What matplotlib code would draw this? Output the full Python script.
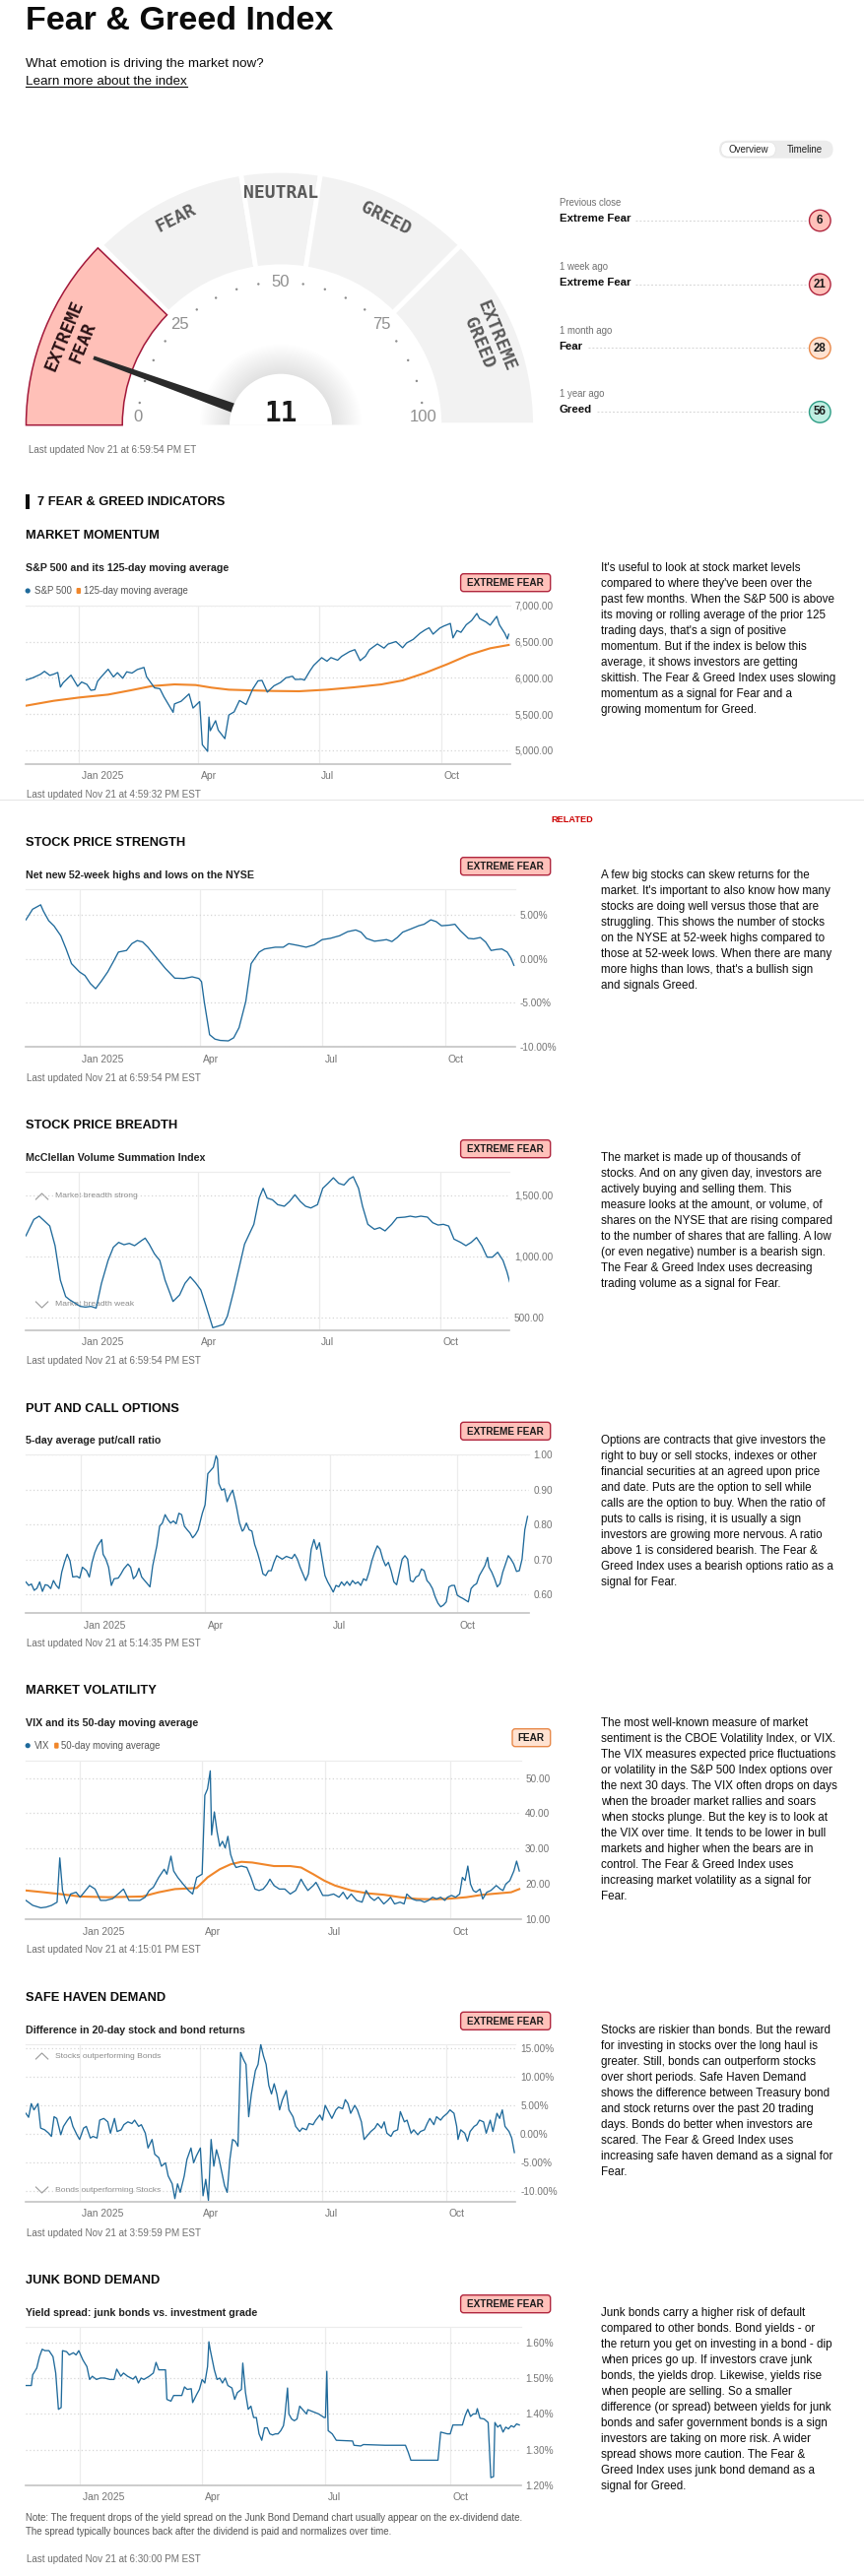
import numpy as np
import matplotlib
matplotlib.use("Agg")
import matplotlib.pyplot as plt
import matplotlib.transforms as mtransforms
from matplotlib.patches import Wedge, Circle, Polygon, FancyBboxPatch, Rectangle

plt.rcParams['font.family'] = ['Liberation Sans', 'DejaVu Sans']

# ---------------- data ----------------
fg_value = 11
zone_names = ['EXTREME\nFEAR', 'FEAR', 'NEUTRAL', 'GREED', 'EXTREME\nGREED']
zone_bounds = [0, 25, 45, 55, 75, 100]
gauge_labels = [0, 25, 50, 75, 100]

hist_when = ['Previous close', '1 week ago', '1 month ago', '1 year ago']
hist_rating = ['Extreme Fear', 'Extreme Fear', 'Fear', 'Greed']
hist_value = [6, 21, 28, 56]

badges = ['EXTREME FEAR', 'EXTREME FEAR', 'EXTREME FEAR', 'EXTREME FEAR',
          'FEAR', 'EXTREME FEAR', 'EXTREME FEAR']

month_ticks = ['2025-01-01', '2025-04-01', '2025-07-01', '2025-10-01']
month_labels = ['Jan 2025', 'Apr', 'Jul', 'Oct']

sp500 = [('2024-11-22', 5969), ('2024-11-27', 5999), ('2024-12-03', 6049), ('2024-12-06', 6090),
         ('2024-12-10', 6034), ('2024-12-13', 6051), ('2024-12-16', 6074), ('2024-12-18', 5872),
         ('2024-12-20', 5930), ('2024-12-26', 6037), ('2024-12-31', 5882), ('2025-01-03', 5942),
         ('2025-01-07', 5909), ('2025-01-10', 5827), ('2025-01-13', 5836), ('2025-01-15', 5950),
         ('2025-01-17', 5997), ('2025-01-23', 6119), ('2025-01-27', 6012), ('2025-01-30', 6071),
         ('2025-02-03', 5994), ('2025-02-06', 6083), ('2025-02-10', 6066), ('2025-02-14', 6115),
         ('2025-02-19', 6144), ('2025-02-21', 6013), ('2025-02-27', 5861), ('2025-03-03', 5849),
         ('2025-03-06', 5739), ('2025-03-10', 5615), ('2025-03-13', 5522), ('2025-03-14', 5639),
         ('2025-03-19', 5675), ('2025-03-25', 5777), ('2025-03-28', 5581), ('2025-04-02', 5671),
         ('2025-04-04', 5074), ('2025-04-08', 4982), ('2025-04-09', 5457), ('2025-04-10', 5268),
         ('2025-04-14', 5406), ('2025-04-16', 5276), ('2025-04-21', 5158), ('2025-04-24', 5485),
         ('2025-04-28', 5529), ('2025-05-02', 5686), ('2025-05-07', 5631), ('2025-05-12', 5844),
         ('2025-05-16', 5958), ('2025-05-19', 5964), ('2025-05-23', 5802), ('2025-05-28', 5889),
         ('2025-06-02', 5936), ('2025-06-06', 6000), ('2025-06-11', 6022), ('2025-06-13', 5977),
         ('2025-06-18', 5981), ('2025-06-20', 5968), ('2025-06-24', 6092), ('2025-06-27', 6173),
         ('2025-07-03', 6279), ('2025-07-07', 6230), ('2025-07-10', 6280), ('2025-07-15', 6244),
         ('2025-07-18', 6297), ('2025-07-24', 6363), ('2025-07-28', 6390), ('2025-08-01', 6238),
         ('2025-08-05', 6299), ('2025-08-08', 6389), ('2025-08-14', 6469), ('2025-08-19', 6411),
         ('2025-08-22', 6467), ('2025-08-28', 6502), ('2025-09-02', 6416), ('2025-09-05', 6482),
         ('2025-09-10', 6532), ('2025-09-15', 6615), ('2025-09-19', 6664), ('2025-09-22', 6693),
         ('2025-09-25', 6605), ('2025-09-30', 6688), ('2025-10-03', 6716), ('2025-10-08', 6753),
         ('2025-10-10', 6553), ('2025-10-13', 6655), ('2025-10-16', 6630), ('2025-10-20', 6735),
         ('2025-10-24', 6792), ('2025-10-28', 6891), ('2025-10-30', 6822), ('2025-11-04', 6772),
         ('2025-11-07', 6729), ('2025-11-12', 6851), ('2025-11-14', 6734), ('2025-11-18', 6617),
         ('2025-11-20', 6538), ('2025-11-21', 6603)]
sp500_ma125 = [('2024-11-22', 5614), ('2024-12-13', 5682), ('2025-01-01', 5727), ('2025-01-23', 5768),
               ('2025-02-09', 5827), ('2025-02-25', 5886), ('2025-03-14', 5909), ('2025-03-30', 5900),
               ('2025-04-11', 5864), ('2025-04-24', 5836), ('2025-05-10', 5827), ('2025-05-27', 5818),
               ('2025-06-16', 5814), ('2025-07-07', 5836), ('2025-07-27', 5868), ('2025-08-17', 5909),
               ('2025-09-02', 5964), ('2025-09-19', 6068), ('2025-10-06', 6191), ('2025-10-22', 6318),
               ('2025-11-07', 6409), ('2025-11-21', 6455)]

# (days after 2025-01-01, value)
strength = [(-40, 4.4), (-35, 5.6), (-29, 6.1), (-27, 5.4), (-23, 4.3), (-19, 3.7), (-14, 2.6), (-10, 1.1),
            (-6, -0.56), (0, -1.5), (4, -1.9), (8, -2.8), (12, -3.4), (16, -2.6), (21, -1.5), (25, -0.4),
            (29, 0.75), (35, 0.93), (39, 1.7), (43, 2.05), (47, 1.9), (51, 1.3), (58, 0), (64, -1.1),
            (71, -2.2), (78, -2.24), (84, -2.05), (89, -2.24), (91, -2.6), (93, -4.85), (97, -8.6),
            (101, -9.1), (105, -9.25), (111, -9.3), (115, -8.95), (119, -7.8), (124, -4.85), (128, -0.56),
            (134, 0.75), (138, 1.1), (146, 1.3), (152, 1.3), (156, 1.7), (163, 1.5), (169, 1.3), (175, 1.57),
            (181, 2.16), (187, 2.3), (194, 2.6), (200, 3.06), (206, 3.25), (210, 3.0), (214, 2.3), (220, 1.98),
            (224, 2.05), (229, 2.16), (233, 1.94), (237, 2.4), (241, 3.0), (247, 3.36), (253, 3.73), (257, 3.9),
            (262, 4.4), (266, 4.2), (270, 3.73), (276, 3.8), (280, 3.9), (284, 3.17), (290, 2.3), (294, 2.24),
            (299, 2.4), (303, 1.87), (307, 0.93), (311, 1.04), (315, 1.1), (319, 0.75), (322, 0), (324, -0.75)]

breadth = [(-40, 1167), (-37, 1234), (-34, 1301), (-30, 1328), (-26, 1288), (-22, 1247), (-18, 1086),
           (-14, 804), (-10, 669), (-7, 643), (-3, 616), (1, 589), (5, 583), (9, 589), (13, 575), (17, 777),
           (22, 965), (26, 1073), (30, 1113), (34, 1094), (38, 1105), (42, 1086), (47, 1126), (50, 1148),
           (53, 1099), (57, 1019), (61, 965), (65, 804), (71, 629), (76, 683), (80, 777), (84, 831), (88, 782),
           (92, 723), (96, 589), (101, 414), (105, 427), (109, 441), (112, 508), (117, 723), (121, 911),
           (125, 1099), (132, 1261), (136, 1476), (139, 1556), (142, 1476), (146, 1462), (150, 1422),
           (155, 1409), (159, 1449), (163, 1503), (167, 1449), (171, 1409), (175, 1395), (180, 1422),
           (184, 1556), (188, 1597), (192, 1642), (196, 1597), (200, 1583), (204, 1632), (207, 1651),
           (211, 1556), (214, 1409), (218, 1261), (223, 1220), (227, 1234), (231, 1207), (236, 1261),
           (240, 1315), (246, 1320), (250, 1328), (254, 1320), (258, 1328), (263, 1320), (267, 1274),
           (271, 1255), (275, 1261), (279, 1247), (283, 1140), (288, 1113), (292, 1086), (296, 1113),
           (300, 1153), (304, 1086), (308, 992), (312, 992), (316, 1032), (320, 965), (323, 871), (325, 790)]

put_call = [(-40, .636), (-38, .626), (-36, .630), (-34, .612), (-32, .618), (-30, .636), (-28, .609),
            (-26, .628), (-24, .626), (-22, .617), (-20, .640), (-18, .626), (-16, .617), (-14, .664),
            (-12, .692), (-10, .715), (-8, .696), (-6, .650), (-3, .652), (-1, .647), (1, .678), (4, .668),
            (6, .650), (8, .692), (10, .720), (12, .739), (15, .757), (16, .715), (18, .701), (20, .678),
            (22, .626), (24, .645), (27, .647), (29, .659), (31, .673), (34, .687), (36, .678), (38, .645),
            (40, .654), (42, .675), (44, .650), (47, .636), (50, .622), (52, .682), (55, .739), (57, .795),
            (59, .804), (61, .828), (63, .814), (65, .804), (67, .810), (69, .802), (71, .832), (73, .828),
            (75, .795), (77, .785), (79, .776), (81, .762), (83, .771), (85, .785), (88, .832), (90, .856),
            (92, .945), (94, .954), (96, .963), (98, .996), (99, .987), (100, .917), (102, .898), (104, .902),
            (106, .865), (108, .884), (110, .898), (112, .865), (113, .846), (115, .804), (117, .781),
            (118, .785), (120, .804), (122, .785), (124, .781), (126, .743), (128, .720), (130, .692),
            (132, .659), (134, .654), (136, .668), (138, .668), (140, .692), (142, .711), (144, .706),
            (146, .701), (149, .709), (151, .706), (153, .703), (155, .715), (157, .701), (159, .678),
            (161, .659), (163, .640), (165, .659), (167, .729), (169, .757), (171, .729), (173, .748),
            (175, .701), (177, .654), (179, .636), (181, .622), (183, .607), (185, .626), (187, .622),
            (189, .636), (191, .626), (193, .637), (195, .626), (197, .640), (199, .631), (201, .636),
            (203, .626), (205, .645), (207, .640), (209, .664), (211, .696), (213, .720), (215, .739),
            (217, .729), (219, .701), (221, .682), (223, .692), (225, .668), (227, .636), (229, .628),
            (231, .664), (233, .701), (235, .711), (237, .701), (239, .640), (241, .636), (243, .650),
            (245, .654), (247, .673), (249, .668), (251, .640), (253, .631), (255, .617), (257, .593),
            (259, .575), (261, .565), (263, .570), (265, .579), (267, .622), (269, .626), (271, .626),
            (273, .598), (275, .593), (277, .589), (279, .584), (281, .579), (283, .617), (285, .626),
            (287, .631), (289, .654), (291, .668), (293, .682), (295, .706), (296, .678), (298, .664),
            (300, .645), (302, .622), (304, .631), (306, .664), (308, .687), (310, .711), (312, .701),
            (314, .687), (316, .666), (318, .668), (320, .701), (322, .785), (324, .823)]

vix = [(-40, 15.4), (-35, 14.0), (-29, 13.3), (-25, 13.5), (-21, 14.0), (-17, 14.9), (-15, 27.4), (-13, 18.2),
       (-10, 14.5), (-7, 17.2), (-3, 17.7), (0, 16.3), (3, 17.7), (7, 19.6), (11, 18.6), (15, 15.4), (19, 15.4),
       (24, 15.9), (28, 17.2), (32, 18.6), (36, 15.4), (40, 15.4), (44, 15.4), (48, 16.3), (51, 18.2),
       (54, 19.1), (58, 21.9), (62, 24.2), (64, 22.8), (67, 27.9), (69, 23.7), (72, 21.9), (76, 20.0),
       (80, 18.2), (83, 17.2), (86, 21.9), (90, 22.8), (92, 45.1), (94, 46.9), (96, 52.0), (97, 33.9),
       (99, 40.4), (101, 34.9), (103, 30.7), (105, 32.1), (107, 30.2), (109, 33.5), (111, 28.4), (113, 26.1),
       (115, 24.7), (119, 25.1), (123, 24.7), (126, 21.9), (129, 18.6), (132, 18.2), (135, 18.6), (138, 20.0),
       (140, 21.4), (143, 19.6), (147, 18.6), (151, 18.6), (155, 17.2), (159, 18.2), (163, 21.4), (165, 20.0),
       (168, 18.2), (172, 19.6), (174, 20.5), (176, 19.1), (179, 16.8), (183, 16.8), (187, 17.2), (191, 16.3),
       (194, 17.7), (197, 15.8), (200, 17.2), (204, 15.4), (208, 14.9), (211, 18.2), (214, 16.3), (217, 15.4),
       (220, 16.3), (224, 14.4), (227, 15.4), (229, 16.3), (232, 14.4), (236, 14.9), (239, 14.4), (241, 17.2),
       (245, 15.8), (248, 15.4), (251, 15.4), (254, 14.9), (257, 15.4), (260, 16.3), (263, 15.8), (266, 16.3),
       (269, 15.4), (271, 16.3), (274, 16.8), (277, 16.3), (280, 17.2), (282, 21.9), (284, 21.0), (286, 25.1),
       (288, 20.0), (290, 18.2), (292, 17.7), (295, 18.6), (297, 15.8), (300, 17.7), (303, 18.2), (307, 19.6),
       (310, 18.6), (312, 18.2), (314, 20.0), (317, 21.0), (320, 23.7), (322, 26.5), (324, 23.7)]
vix_ma50 = [(-40, 18.2), (-27, 17.7), (-15, 17.2), (0, 16.5), (21, 16.3), (46, 16.5), (58, 17.7), (70, 18.6),
            (86, 18.9), (94, 21.9), (103, 24.2), (111, 25.6), (119, 26.3), (127, 26.1), (135, 25.6),
            (143, 25.1), (155, 25.1), (163, 24.7), (172, 22.8), (180, 21.0), (188, 19.6), (200, 18.2),
            (212, 17.4), (224, 17.0), (236, 16.3), (249, 15.8), (261, 15.7), (273, 15.9), (285, 16.3),
            (297, 17.0), (309, 17.4), (318, 17.7), (324, 18.6)]

safe_haven = [(-40, 3.6), (-38, 2.9), (-36, 5.3), (-34, 4.2), (-31, 5.3), (-29, 1.0), (-26, 0.7), (-23, 0.1),
              (-21, -0.46), (-19, 3.0), (-17, 2.7), (-14, -0.17), (-12, 1.3), (-9, 2.4), (-7, 3.0), (-5, 1.3),
              (-2, -0.17), (0, -1.0), (3, 1.0), (5, 1.3), (8, -0.75), (10, -0.46), (13, -0.75), (15, 2.4),
              (18, 2.7), (21, 2.1), (23, 0.1), (26, 2.7), (28, 0.4), (31, 0.7), (33, 1.6), (36, 2.1), (39, 1.8),
              (41, 2.4), (44, 1.3), (46, 1.6), (49, 0.1), (51, -2.5), (54, -1.0), (56, -3.6), (59, -4.2),
              (61, -5.7), (64, -5.1), (66, -7.4), (69, -8.8), (71, -11.4), (73, -8.8), (75, -10.3), (78, -7.4),
              (80, -4.5), (83, -2.5), (85, -5.1), (87, -3.9), (90, -2.5), (92, -10.9), (94, -8.0), (96, -11.7),
              (98, -1.0), (100, -5.7), (102, -2.8), (104, -4.5), (106, -6.8), (108, -9.1), (110, -10.3),
              (112, -4.5), (114, -1.0), (116, -1.3), (118, -2.2), (120, 14.3), (122, 13.1), (124, 12.2),
              (126, 3.0), (128, 7.0), (131, 11.1), (133, 12.2), (135, 15.7), (137, 13.7), (139, 12.2), (141, 8.5),
              (143, 7.0), (145, 8.8), (147, 7.0), (149, 4.2), (151, 5.9), (154, 7.6), (156, 4.2), (159, 3.0),
              (161, 1.3), (164, 0.4), (166, 1.0), (169, 0.7), (171, 1.8), (174, 1.6), (176, 2.4), (179, 3.3),
              (181, 2.4), (183, 5.0), (186, 3.6), (188, 2.7), (191, 4.2), (193, 4.7), (196, 4.4), (198, 6.0),
              (200, 5.3), (202, 3.6), (205, 5.0), (207, 4.2), (210, 2.1), (212, -1.0), (215, -0.17), (217, 0.4),
              (220, 1.0), (222, 1.8), (225, 1.0), (227, 2.1), (229, 0.1), (232, -0.46), (234, 0.4), (237, 0.7),
              (239, 3.9), (242, 2.1), (244, 2.4), (247, 0.1), (249, 0.7), (252, -0.17), (254, 0.4), (257, 0.7),
              (259, 1.8), (261, 2.7), (264, 1.6), (266, 3.0), (269, 2.4), (271, 3.0), (274, 3.6), (276, 4.2),
              (279, 3.6), (281, 1.3), (282, -1.0), (284, 0.7), (287, 0.1), (289, -1.3), (291, 0.4), (294, 1.3),
              (296, 1.6), (298, 2.4), (301, 2.1), (303, 0.1), (306, 2.4), (308, 0.4), (311, 3.6), (313, 2.7),
              (315, 4.2), (317, 1.3), (320, 0.4), (322, -0.75), (324, -3.3)]

junk_spread = [(-40, 1.480), (-36, 1.480), (-35, 1.510), (-32, 1.529), (-30, 1.561), (-28, 1.582), (-26, 1.578),
               (-23, 1.578), (-20, 1.561), (-18, 1.515), (-16, 1.413), (-14, 1.418), (-13, 1.578), (-10, 1.575),
               (-8, 1.566), (-5, 1.572), (-3, 1.566), (-1, 1.578), (2, 1.552), (5, 1.533), (7, 1.497), (9, 1.506),
               (12, 1.497), (15, 1.501), (18, 1.501), (22, 1.497), (25, 1.497), (27, 1.526), (30, 1.506),
               (32, 1.515), (35, 1.506), (39, 1.498), (41, 1.506), (43, 1.487), (45, 1.501), (47, 1.497),
               (51, 1.506), (54, 1.515), (56, 1.545), (58, 1.524), (61, 1.524), (63, 1.524), (64, 1.441),
               (67, 1.436), (69, 1.452), (73, 1.452), (75, 1.452), (77, 1.476), (79, 1.469), (82, 1.471),
               (83, 1.432), (86, 1.455), (88, 1.469), (90, 1.497), (92, 1.487), (94, 1.533), (95, 1.603),
               (96, 1.580), (99, 1.524), (101, 1.497), (103, 1.501), (105, 1.487), (107, 1.501), (109, 1.480),
               (112, 1.473), (114, 1.441), (116, 1.460), (119, 1.469), (120, 1.543), (122, 1.460), (124, 1.413),
               (126, 1.422), (128, 1.390), (130, 1.390), (132, 1.344), (134, 1.326), (136, 1.361), (138, 1.361),
               (140, 1.344), (142, 1.341), (144, 1.344), (146, 1.344), (148, 1.353), (150, 1.367), (151, 1.393),
               (153, 1.473), (154, 1.400), (156, 1.386), (158, 1.381), (160, 1.386), (162, 1.422), (164, 1.413),
               (167, 1.400), (168, 1.412), (172, 1.406), (176, 1.400), (180, 1.390), (181, 1.390), (182, 1.520),
               (183, 1.353), (186, 1.344), (189, 1.326), (201, 1.324), (202, 1.312), (207, 1.310), (209, 1.314),
               (225, 1.312), (240, 1.312), (242, 1.293), (244, 1.270), (264, 1.270), (266, 1.349), (268, 1.347),
               (271, 1.344), (273, 1.344), (275, 1.369), (282, 1.369), (284, 1.395), (286, 1.413), (288, 1.393),
               (290, 1.400), (292, 1.400), (293, 1.415), (295, 1.388), (298, 1.386), (301, 1.376), (303, 1.221),
               (305, 1.224), (306, 1.376), (308, 1.363), (310, 1.369), (312, 1.349), (314, 1.363), (316, 1.358),
               (318, 1.367), (320, 1.363), (322, 1.372), (324, 1.369)]

# ---------------- helpers ----------------
W, H = 877, 2616
BLUE, ORANGE = '#1f6a9b', '#f0862a'
INK, GREY = '#0c0c0c', '#6e6e6e'
RATING_COLORS = {'EXTREME FEAR': ('#ffc1ba', '#b0263e'), 'FEAR': ('#ffe2d1', '#e8894a'),
                 'GREED': ('#bfeee1', '#2d9c84')}

fig = plt.figure(figsize=(W / 100, H / 100), dpi=100)
bg = fig.add_axes([0, 0, 1, 1])
bg.set_xlim(0, W)
bg.set_ylim(H, 0)
bg.axis('off')


def txt(x, y, s, size, **kw):
    kw.setdefault('color', INK)
    kw.setdefault('va', 'baseline')
    return bg.text(x, y, s, fontsize=size, **kw)


def to_dates(pairs):
    d, v = zip(*pairs)
    return np.datetime64('2025-01-01') + np.array(d).astype('timedelta64[D]'), np.array(v)


def str_dates(pairs):
    d, v = zip(*pairs)
    return np.array(d, dtype='datetime64[D]'), np.array(v)


# ---------------- header ----------------
txt(26, 29.5, 'Fear & Greed Index', 24.5, fontweight='bold')
txt(26.3, 67.7, 'What emotion is driving the market now?', 9.6)
learn = txt(26.3, 85.7, 'Learn more about the index', 9.6)

bg.add_patch(FancyBboxPatch((730, 142.7), 115.6, 18, boxstyle='round,pad=0,rounding_size=9',
                            fc='#ececec', ec='none'))
bg.add_patch(FancyBboxPatch((731.8, 144.2), 55.5, 15, boxstyle='round,pad=0,rounding_size=7.5',
                            fc='white', ec='#e2e2e2', lw=0.5))
txt(759.5, 152, 'Overview', 7, ha='center', va='center', color='#222222')
txt(816.6, 152, 'Timeline', 7, ha='center', va='center', color='#222222')

# ---------------- gauge ----------------
CX, CY, R, RIN = 285, 431.7, 258.5, 160.8


def pt(v, r):
    a = np.radians(180 - 1.8 * v)
    return CX + r * np.cos(a), CY - r * np.sin(a)


active = max(i for i in range(5) if fg_value >= zone_bounds[i])
for i in range(5):
    v1, v2 = zone_bounds[i], zone_bounds[i + 1]
    bg.add_patch(Wedge((CX, CY), R, 180 + 1.8 * v1, 180 + 1.8 * v2, width=R - RIN,
                       fc='#f2f2f2', ec='white', lw=3.5, zorder=1))
v1, v2 = zone_bounds[active], zone_bounds[active + 1]
bg.add_patch(Wedge((CX, CY), R, 180 + 1.8 * v1 + (0 if v1 == 0 else 0.9),
                   180 + 1.8 * v2 - (0 if v2 == 100 else 0.9), width=R - RIN,
                   fc='#ffc0b8', ec='#a3183a', lw=1.1, zorder=2))

for i, name in enumerate(zone_names):
    vm = (zone_bounds[i] + zone_bounds[i + 1]) / 2
    frac = 0.88 if '\n' in name else 0.91
    x, y = pt(vm, frac * R)
    bg.text(x, y, name, fontsize=13, fontweight='bold',
            family=['Liberation Sans Narrow', 'DejaVu Sans Mono'],
            color='#2a1215' if i == active else '#5a5a5a',
            rotation=90 - 1.8 * vm, rotation_mode='anchor', ha='center', va='center',
            multialignment='center', linespacing=1.1, zorder=5)

for v in range(5, 100, 5):
    if v % 25:
        bg.add_patch(Circle(pt(v, 0.561 * R), 1.2, fc='#8c8c8c', ec='none', zorder=3))
for v in gauge_labels:
    vv = min(max(v, 1.7), 98.3)
    x, y = pt(vv, 0.56 * R)
    bg.text(x, y, str(v), fontsize=12, color='#8f8f8f', ha='center', va='center', zorder=3)

for r in np.linspace(82, 53, 15):
    bg.add_patch(Wedge((CX, CY), r, 180, 360, fc='#808080', ec='none', alpha=0.010, zorder=3))

a = np.radians(180 - 1.8 * fg_value)
u = np.array([np.cos(a), -np.sin(a)])
n = np.array([np.sin(a), np.cos(a)])
c = np.array([CX, CY])
base, tip = c + u * 30, c + u * 202
bg.add_patch(Polygon([base + n * 5.2, tip + n * 1.9, tip - n * 1.9, base - n * 5.2],
                     closed=True, fc='#2a2a2a', ec='none', zorder=4))
bg.add_patch(Wedge((CX, CY), 52, 180, 360, fc='white', ec='none', zorder=6))
bg.text(CX, 427.7, str(fg_value), fontsize=20, fontweight='bold', family='DejaVu Sans Mono',
        color='#1a1a1a', ha='center', va='baseline', zorder=7)

txt(29, 460, 'Last updated Nov 21 at 6:59:54 PM ET', 7.1, color=GREY)

# history list
rating_texts = []
for k in range(4):
    y0 = 209 + 64.8 * k
    txt(567.7, y0, hist_when[k], 6.9, color=GREY)
    rating_texts.append(txt(567.7, y0 + 16, hist_rating[k], 8.2, fontweight='bold'))
    fc, ec = RATING_COLORS[hist_rating[k].upper()]
    bg.add_patch(Circle((832.3, y0 + 15), 10.8, fc=fc, ec=ec, lw=1))
    txt(832.3, y0 + 15, str(hist_value[k]), 8.3, fontweight='bold', ha='center', va='center',
        color='#1a1a1a')

# ---------------- indicators ----------------
bg.add_patch(Rectangle((26.3, 501.7), 3.3, 15, fc=INK, ec='none'))
txt(37.5, 512.7, '7 FEAR & GREED INDICATORS', 9.3, fontweight='bold')
bg.plot([0, W], [812.3, 812.3], color='#e6e6e6', lw=0.8)
txt(559.3, 835, 'RELATED', 6.6, fontweight='bold', color='#cc0000')

LEFT = 26.3
sections = [
    dict(title='MARKET MOMENTUM', ty=547.3, sub='S&P 500 and its 125-day moving average', sy=580,
         by=582.7, top=615, bottom=776, right=517.7, ylim=(4805, 7000),
         yt=[5000, 5500, 6000, 6500, 7000], fmt='{:,.2f}', upd='4:59:32', uy=810,
         legend=('S&P 500', '125-day moving average'), ly=600,
         desc=["It's useful to look at stock market levels", "compared to where they've been over the",
               "past few months. When the S&P 500 is above", "its moving or rolling average of the prior 125",
               "trading days, that's a sign of positive", "momentum. But if the index is below this",
               "average, it shows investors are getting", "skittish. The Fear & Greed Index uses slowing",
               "momentum as a signal for Fear and a", "growing momentum for Greed."]),
    dict(title='STOCK PRICE STRENGTH', ty=858.7, sub='Net new 52-week highs and lows on the NYSE', sy=891.7,
         by=870.7, top=902.7, bottom=1063.3, right=523, ylim=(-10, 7.9),
         yt=[-10, -5, 0, 5], fmt='{:.2f}%', upd='6:59:54', uy=1097.7,
         desc=["A few big stocks can skew returns for the", "market. It's important to also know how many",
               "stocks are doing well versus those that are", "struggling. This shows the number of stocks",
               "on the NYSE at 52-week highs compared to", "those at 52-week lows. When there are many",
               "more highs than lows, that's a bullish sign", "and signals Greed."]),
    dict(title='STOCK PRICE BREADTH', ty=1146, sub='McClellan Volume Summation Index', sy=1178.7,
         by=1157.7, top=1190.3, bottom=1351, right=517.3, ylim=(392.5, 1688.7),
         yt=[500, 1000, 1500], fmt='{:,.2f}', upd='6:59:54', uy=1385,
         notes=(('Market breadth strong', 1215), ('Market breadth weak', 1325)),
         desc=["The market is made up of thousands of", "stocks. And on any given day, investors are",
               "actively buying and selling them. This", "measure looks at the amount, or volume, of",
               "shares on the NYSE that are rising compared", "to the number of shares that are falling. A low",
               "(or even negative) number is a bearish sign.", "The Fear & Greed Index uses decreasing",
               "trading volume as a signal for Fear."]),
    dict(title='PUT AND CALL OPTIONS', ty=1433.7, sub='5-day average put/call ratio', sy=1465.7,
         by=1444.3, top=1477, bottom=1638.3, right=536.9, ylim=(0.5466, 1.0),
         yt=[0.6, 0.7, 0.8, 0.9, 1.0], fmt='{:.2f}', upd='5:14:35', uy=1672.3,
         desc=["Options are contracts that give investors the", "right to buy or sell stocks, indexes or other",
               "financial securities at an agreed upon price", "and date. Puts are the option to sell while",
               "calls are the option to buy. When the ratio of", "puts to calls is rising, it is usually a sign",
               "investors are growing more nervous. A ratio", "above 1 is considered bearish. The Fear &",
               "Greed Index uses a bearish options ratio as a", "signal for Fear."]),
    dict(title='MARKET VOLATILITY', ty=1720.3, sub='VIX and its 50-day moving average', sy=1752.7,
         by=1755.7, top=1788.3, bottom=1949.3, right=528.5, ylim=(10, 54.8),
         yt=[10, 20, 30, 40, 50], fmt='{:.2f}', upd='4:15:01', uy=1983.3,
         legend=('VIX', '50-day moving average'), ly=1772.7,
         desc=["The most well-known measure of market", "sentiment is the CBOE Volatility Index, or VIX.",
               "The VIX measures expected price fluctuations", "or volatility in the S&P 500 Index options over",
               "the next 30 days. The VIX often drops on days", "when the broader market rallies and soars",
               "when stocks plunge. But the key is to look at", "the VIX over time. It tends to be lower in bull",
               "markets and higher when the bears are in", "control. The Fear & Greed Index uses",
               "increasing market volatility as a signal for", "Fear."]),
    dict(title='SAFE HAVEN DEMAND', ty=2031.7, sub='Difference in 20-day stock and bond returns', sy=2064.7,
         by=2043.3, top=2076, bottom=2236, right=523.5, ylim=(-11.96, 15.74),
         yt=[-10, -5, 0, 5, 10, 15], fmt='{:.2f}%', upd='3:59:59', uy=2271,
         notes=(('Stocks outperforming Bonds', 2088), ('Bonds outperforming Stocks', 2224)),
         desc=["Stocks are riskier than bonds. But the reward", "for investing in stocks over the long haul is",
               "greater. Still, bonds can outperform stocks", "over short periods. Safe Haven Demand",
               "shows the difference between Treasury bond", "and stock returns over the past 20 trading",
               "days. Bonds do better when investors are", "scared. The Fear & Greed Index uses",
               "increasing safe haven demand as a signal for", "Fear."]),
    dict(title='JUNK BOND DEMAND', ty=2318.7, sub='Yield spread: junk bonds vs. investment grade', sy=2351.7,
         by=2330.7, top=2363.3, bottom=2523.7, right=528.5, ylim=(1.20, 1.644),
         yt=[1.2, 1.3, 1.4, 1.5, 1.6], fmt='{:.2f}%', upd='6:30:00', uy=2601.7,
         desc=["Junk bonds carry a higher risk of default", "compared to other bonds. Bond yields - or",
               "the return you get on investing in a bond - dip", "when prices go up. If investors crave junk",
               "bonds, the yields drop. Likewise, yields rise", "when people are selling. So a smaller",
               "difference (or spread) between yields for junk", "bonds and safer government bonds is a sign",
               "investors are taking on more risk. A wider", "spread shows more caution. The Fear &",
               "Greed Index uses junk bond demand as a", "signal for Greed."]),
]

series = [
    [str_dates(sp500), str_dates(sp500_ma125)],
    [to_dates(strength)],
    [to_dates(breadth)],
    [to_dates(put_call)],
    [to_dates(vix), to_dates(vix_ma50)],
    [to_dates(safe_haven)],
    [to_dates(junk_spread)],
]

legend_first = []
xshift = mtransforms.ScaledTranslation(2.5 / 100, 0, fig.dpi_scale_trans)
for sec, lines, badge in zip(sections, series, badges):
    txt(LEFT, sec['ty'], sec['title'], 9.3, fontweight='bold')
    txt(LEFT, sec['sy'], sec['sub'], 7.7, fontweight='bold', color='#222222')
    fc, ec = RATING_COLORS[badge]
    bw = 91.1 if badge == 'EXTREME FEAR' else 38.7
    bg.add_patch(FancyBboxPatch((558.7 - bw, sec['by']), bw, 18, boxstyle='round,pad=0,rounding_size=3',
                                fc=fc, ec=ec, lw=1))
    txt(558.7 - bw / 2, sec['by'] + 9.3, badge, 7.2, fontweight='bold', ha='center', va='center',
        color='#1a1a1a')
    for k, line in enumerate(sec['desc']):
        txt(609.6, sec['sy'] + 16 * k, line, 8.35)
    txt(27.3, sec['uy'], 'Last updated Nov 21 at %s PM EST' % sec['upd'], 7.1, color=GREY)

    if 'legend' in sec:
        bg.add_patch(Circle((28.2, sec['ly']), 2.6, fc=BLUE, ec='none'))
        legend_first.append((txt(35.2, sec['ly'], sec['legend'][0], 6.9, va='center', color='#555555'),
                             sec))

    ax = fig.add_axes([LEFT / W, 1 - sec['bottom'] / H, (sec['right'] - LEFT) / W,
                       (sec['bottom'] - sec['top']) / H])
    ax.patch.set_alpha(0)
    for j, (d, v) in enumerate(lines):
        ax.plot(d, v, color=BLUE if j == 0 else ORANGE, lw=0.95 if j == 0 else 1.5,
                solid_joinstyle='round', zorder=3 if j == 0 else 2)
    ax.set_xlim(np.datetime64('2024-11-22'), np.datetime64('2025-11-22'))
    ax.set_ylim(*sec['ylim'])
    ax.set_xticks(np.array(month_ticks, dtype='datetime64[D]'))
    ax.set_xticklabels(month_labels)
    ax.set_yticks(sec['yt'])
    ax.set_yticklabels([sec['fmt'].format(t) for t in sec['yt']])
    ax.yaxis.tick_right()
    ax.tick_params(axis='y', length=0, pad=3.3, labelsize=7.2, labelcolor='#737373')
    ax.tick_params(axis='x', length=0, pad=5.3, labelsize=7.4, labelcolor='#737373')
    for lbl in ax.get_xticklabels():
        lbl.set_ha('left')
        lbl.set_transform(lbl.get_transform() + xshift)
    ax.grid(axis='x', color='#ececec', lw=0.9, ls='-')
    ax.grid(axis='y', color='#d6d6d6', lw=0.9, ls=(0, (1, 2)))
    ax.set_axisbelow(True)
    for s in ('left', 'right'):
        ax.spines[s].set_visible(False)
    ax.spines['top'].set_color('#ececec')
    ax.spines['top'].set_linewidth(0.8)
    ax.spines['bottom'].set_color('#c4c4c4')
    ax.spines['bottom'].set_linewidth(1.2)

    if 'notes' in sec:
        for (label, yy), up in zip(sec['notes'], (True, False)):
            dy = -3 if up else 3
            bg.plot([36.4, 42.5, 48.7], [yy - dy, yy + dy, yy - dy], color='#9a9a9a', lw=0.8)
            txt(56, yy, label, 6.1, va='center', color='#8a8a8a')

txt(26.3, 2560, 'Note: The frequent drops of the yield spread on the Junk Bond Demand chart usually appear '
    'on the ex-dividend date.', 7.0, color='#555555')
txt(26.3, 2574, 'The spread typically bounces back after the dividend is paid and normalizes over time.',
    7.0, color='#555555')

# elements that depend on measured text extents
fig.canvas.draw()
bb = learn.get_window_extent()
bg.plot([bb.x0, bb.x1], [87.8, 87.8], color=INK, lw=0.8)
for k, t in enumerate(rating_texts):
    e = t.get_window_extent()
    yy = 209 + 64.8 * k + 14.7
    bg.plot([e.x1 + 5, 820], [yy, yy], color='#d4d4d4', lw=0.7, ls=(0, (2, 2)))
for t, sec in legend_first:
    e = t.get_window_extent()
    bg.add_patch(FancyBboxPatch((e.x1 + 4.5, sec['ly'] - 3), 4.5, 6, boxstyle='round,pad=0,rounding_size=1.2',
                                fc=ORANGE, ec='none'))
    txt(e.x1 + 11.5, sec['ly'], sec['legend'][1], 6.9, va='center', color='#555555')

fig.savefig('out.png', dpi=100)
